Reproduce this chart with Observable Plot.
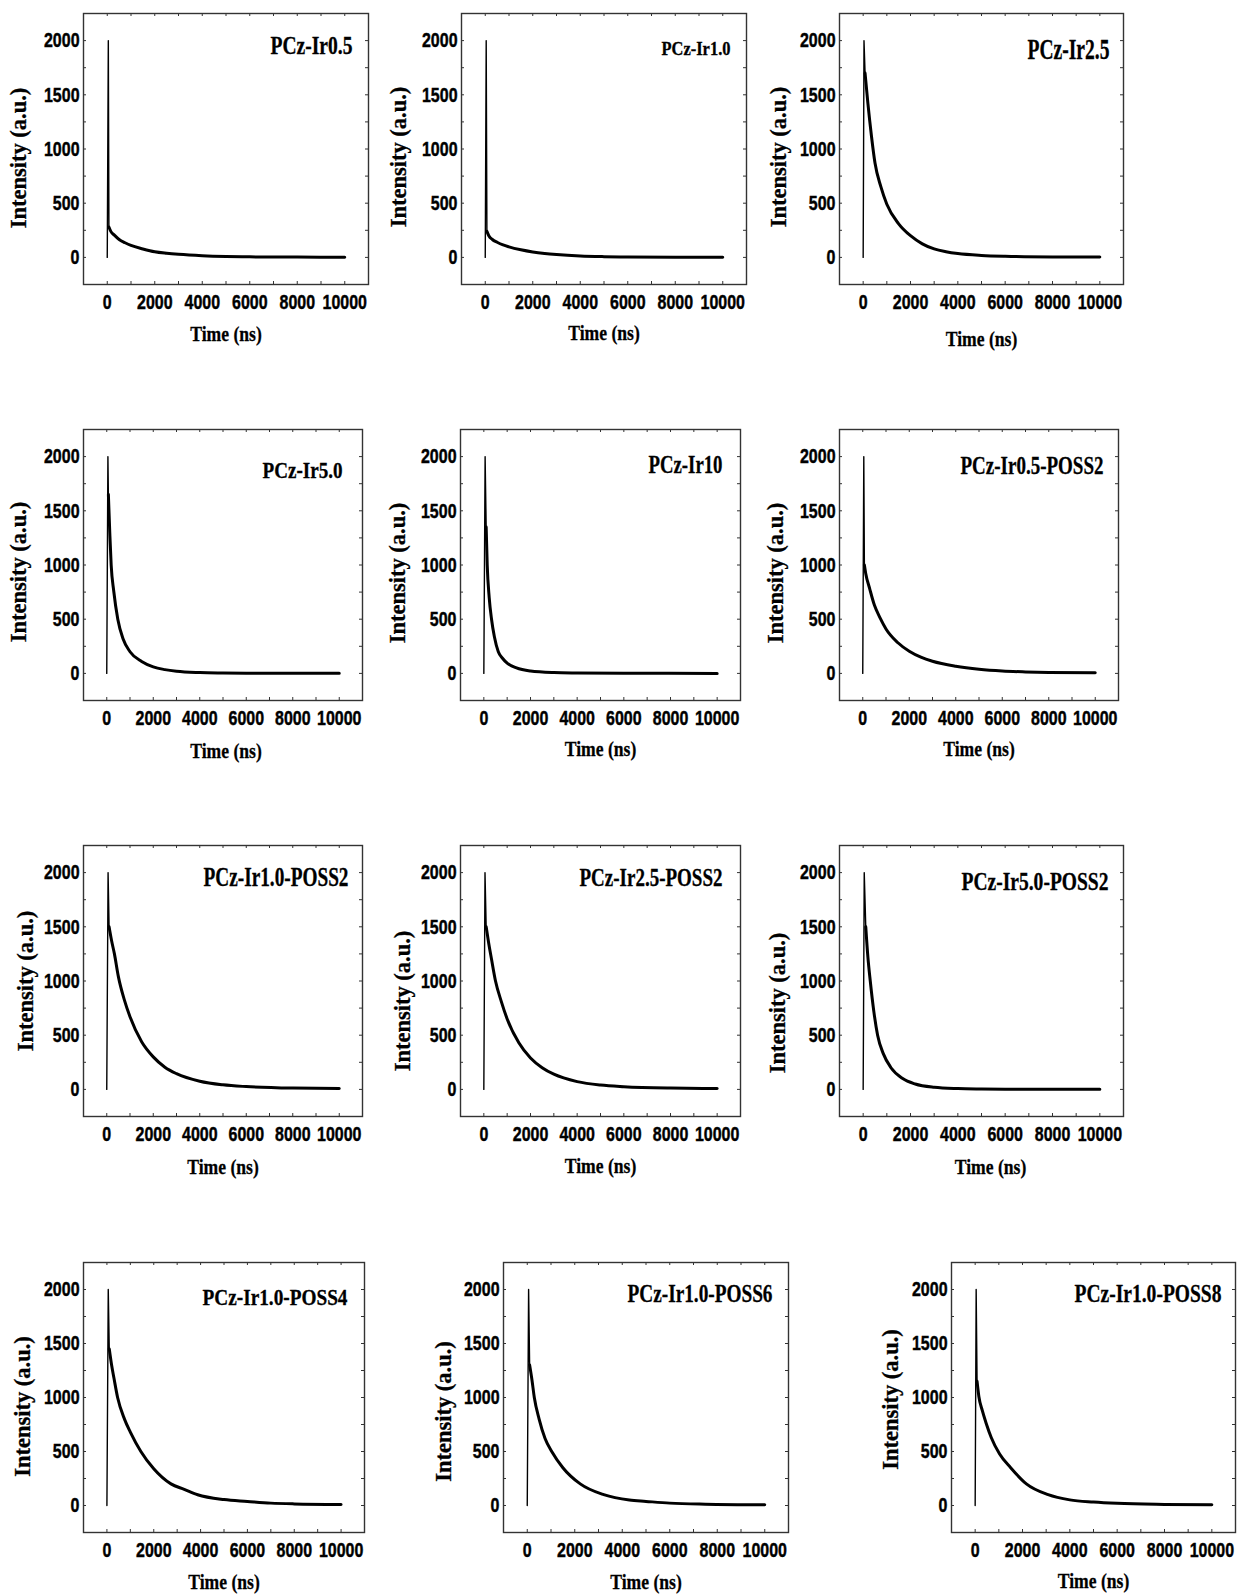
<!DOCTYPE html>
<html><head><meta charset="utf-8">
<script src="https://cdn.jsdelivr.net/npm/d3@7"></script>
<script src="https://cdn.jsdelivr.net/npm/@observablehq/plot@0.6"></script>
<style>
body{margin:0;background:#fff;}
#fig{position:relative;width:1237px;height:1594px;overflow:hidden;background:#fff;}
.panel{position:absolute;}
</style></head><body><div id="fig"></div>
<script>
// ---------------- data ----------------
const xTicks = [0, 2000, 4000, 6000, 8000, 10000];
const yTicks = [0, 500, 1000, 1500, 2000];
const xMinor = [0, 1000, 2000, 3000, 4000, 5000, 6000, 7000, 8000, 9000, 10000];
const yMinor = [0, 250, 500, 750, 1000, 1250, 1500, 1750, 2000];
const xLabel = "Time (ns)";
const yLabel = "Intensity (a.u.)";
const sampleNames = ["PCz-Ir0.5", "PCz-Ir1.0", "PCz-Ir2.5", "PCz-Ir5.0", "PCz-Ir10", "PCz-Ir0.5-POSS2",
  "PCz-Ir1.0-POSS2", "PCz-Ir2.5-POSS2", "PCz-Ir5.0-POSS2", "PCz-Ir1.0-POSS4", "PCz-Ir1.0-POSS6", "PCz-Ir1.0-POSS8"];

// [time (ns), intensity (a.u.)]
const Ir0_5 = [[0,0],[45,2000],[70,280],[150,240],[300,205],[500,165],[750,135],[1000,110],[1500,78],[2000,52],[2500,38],[3000,28],[4000,15],[5000,8],[6000,5],[7000,4],[8000,3],[10000,2]];
const Ir1_0 = [[0,0],[40,2000],[70,240],[150,200],[300,165],[500,140],[750,115],[1000,97],[1500,70],[2000,50],[2500,36],[3000,26],[4000,13],[5000,7],[6000,4],[8000,2],[10000,1]];
const Ir2_5 = [[0,0],[35,2000],[80,1700],[200,1420],[350,1120],[500,870],[750,650],[1000,490],[1500,310],[2000,200],[2500,125],[3000,78],[3500,52],[4000,35],[5000,18],[6000,10],[8000,4],[10000,3]];
const Ir5_0 = [[0,0],[50,2000],[70,1650],[130,1300],[190,1000],[300,760],[475,500],[700,320],[1000,200],[1500,110],[2000,60],[2500,35],[3000,20],[4000,8],[5000,4],[6000,2],[8000,1],[10000,1]];
const Ir10 = [[0,0],[55,2000],[100,1350],[145,1000],[230,700],[330,500],[450,340],[620,200],[800,140],[1000,95],[1400,50],[2000,22],[3000,8],[4000,4],[6000,1],[10000,0]];
const Ir0_5_POSS2 = [[0,0],[45,2000],[70,1000],[130,920],[300,780],[500,630],[750,510],[1000,410],[1500,285],[2000,205],[2500,150],[3000,112],[4000,66],[5000,38],[6000,22],[7000,14],[8000,9],[10000,5]];
const Ir1_0_POSS2 = [[0,0],[57,2000],[100,1500],[200,1380],[330,1250],[500,1040],[750,830],[1000,670],[1500,440],[2000,300],[2500,205],[3000,145],[4000,75],[5000,42],[6000,26],[8000,12],[10000,8]];
const Ir2_5_POSS2 = [[0,0],[50,2000],[100,1500],[200,1360],[330,1200],[500,1000],[750,810],[1000,650],[1500,430],[2000,290],[2500,200],[3000,140],[4000,72],[5000,40],[6000,25],[8000,12],[10000,8]];
const Ir5_0_POSS2 = [[0,0],[45,2000],[110,1500],[200,1220],[300,1000],[450,720],[610,500],[850,330],[1175,200],[1670,100],[2200,50],[3000,20],[4000,8],[5000,4],[6000,2],[8000,1],[10000,1]];
const Ir1_0_POSS4 = [[0,0],[57,2000],[100,1450],[200,1300],[300,1180],[456,1000],[750,800],[1000,680],[1450,500],[2000,340],[2735,200],[3300,150],[3875,100],[5000,55],[6000,38],[7000,22],[8000,15],[10000,10]];
const Ir1_0_POSS6 = [[0,0],[57,2000],[100,1300],[200,1160],[297,1000],[500,800],[750,620],[1031,500],[1500,350],[2232,200],[3220,100],[4300,50],[5000,38],[6000,22],[7500,12],[10000,6]];
const Ir1_0_POSS8 = [[0,0],[42,2000],[80,1150],[156,1010],[300,880],[467,760],[679,630],[1033,476],[1500,350],[2164,200],[3083,100],[4000,52],[5000,32],[6000,20],[8000,10],[10000,6]];
const series = [Ir0_5, Ir1_0, Ir2_5, Ir5_0, Ir10, Ir0_5_POSS2, Ir1_0_POSS2, Ir2_5_POSS2, Ir5_0_POSS2, Ir1_0_POSS4, Ir1_0_POSS6, Ir1_0_POSS8];

// ---------------- layout (pixels / styles) ----------------
const frames = [[83,13,368,284],[461,13,746,284],[839,13,1123,284],
  [83,429,362,700],[460,429,740,700],[839,429,1118,700],
  [83,845,362,1116],[460,845,740,1116],[839,845,1123,1116],
  [83,1262,364,1532],[503,1262,788,1532],[951,1262,1235,1532]];
const titleFont  = [25,18,29,24,25,26,27,25,25,24,26,26];
const titleWidth = [82,69,82,80,74,143,145,143,147,145,145,147];
const titleRight = [16,16,14,20,18,15,14,18,15,17,16,14];
const titleBase  = [40,41,45,48,43,44,40,40,44,42,39,39];
const yLabDx = [-65,-63,-61,-65,-63,-64,-58,-58,-62,-61,-60,-61];
const yLabDy = [9,8,8,7,8,8,0,20,22,9,14,2];
const xLabDx = [0,0,0,3,0,0,0,0,9,0,0,0];
const xLabBase = [56,55,61,57,55,55,57,56,57,56,56,55];

const SANS = "'Liberation Sans', Arial, sans-serif";
const SERIF = "'Liberation Serif', 'Times New Roman', serif";
const fig = document.getElementById("fig");

series.forEach((data, i) => {
  const [L, T, R, B] = frames[i];
  const ml = 90, mt = 13, mb = 75;
  const mr = Math.max(1, Math.min(12, 1237 - R - 1));
  const fw = R - L, fh = B - T;
  const plot = Plot.plot({
    width: fw + ml + mr, height: fh + mt + mb,
    marginLeft: ml, marginRight: mr, marginTop: mt, marginBottom: mb,
    x: {domain: [-1000, 11000]},
    y: {domain: [-250, 2250]},
    style: {background: "transparent", overflow: "visible", color: "#000"},
    marks: [
      Plot.ruleY(yMinor, {y: d => d, insetRight: fw - 3, stroke: "#333", strokeWidth: 1}),
      Plot.ruleY(yMinor, {y: d => d, insetLeft: fw - 3, stroke: "#333", strokeWidth: 1}),
      Plot.ruleX(xMinor, {x: d => d, insetTop: fh - 3, stroke: "#333", strokeWidth: 1}),
      Plot.ruleX(xMinor, {x: d => d, insetBottom: fh - 3, stroke: "#333", strokeWidth: 1}),
      Plot.frame({stroke: "#333", strokeWidth: 1.4}),
      Plot.axisX(xTicks, {anchor: "bottom", tickSize: 0, tickPadding: 10, tickFormat: d => String(d), label: null}),
      Plot.axisY(yTicks, {anchor: "left", tickSize: 0, tickPadding: 4, tickFormat: d => String(d), label: null}),
      Plot.line(data.slice(0, 3), {x: d => d[0], y: d => d[1], stroke: "#000", strokeWidth: 1.4}),
      Plot.line(data.slice(2), {x: d => d[0], y: d => d[1], stroke: "#000", strokeWidth: 3, curve: "monotone-x", strokeLinejoin: "round"}),
      Plot.text([sampleNames[i]], {text: d => d, frameAnchor: "top-right", textAnchor: "end", lineAnchor: "bottom",
        dx: -titleRight[i], dy: titleBase[i]}),
      Plot.text([xLabel], {text: d => d, frameAnchor: "bottom", textAnchor: "middle", lineAnchor: "bottom",
        dx: xLabDx[i], dy: xLabBase[i]}),
      Plot.text([yLabel], {text: d => d, frameAnchor: "left", rotate: -90, textAnchor: "middle", lineAnchor: "middle",
        dx: yLabDx[i], dy: yLabDy[i]})
    ]
  });
  const div = document.createElement("div");
  div.className = "panel";
  div.style.left = (L - ml) + "px";
  div.style.top = (T - mt) + "px";
  div.appendChild(plot);
  fig.appendChild(div);

  // text styling: condensed bold lettering as in the scanned figure
  plot.querySelectorAll("text").forEach(t => {
    const s = t.textContent;
    let size, family, k = null, target = null, sw;
    if (s === sampleNames[i]) { size = titleFont[i]; family = SERIF; target = titleWidth[i]; sw = 0.3; }
    else if (s === xLabel) { size = 22; family = SERIF; k = 0.8; sw = 0.3; }
    else if (s === yLabel) { size = 22.5; family = SERIF; sw = 0.3; }
    else { size = 21; family = SANS; k = 0.76; sw = 0.45; }
    t.style.fontSize = size + "px";
    t.style.fontFamily = family;
    t.style.fontWeight = "bold";
    t.style.fill = "#000";
    t.style.stroke = "#000";
    t.style.strokeWidth = sw + "px";
    const len = t.getComputedTextLength();
    if (len > 0 && (k != null || target != null)) {
      t.setAttribute("textLength", target != null ? target : len * k);
      t.setAttribute("lengthAdjust", "spacingAndGlyphs");
    }
  });
});
</script>
</body></html>
